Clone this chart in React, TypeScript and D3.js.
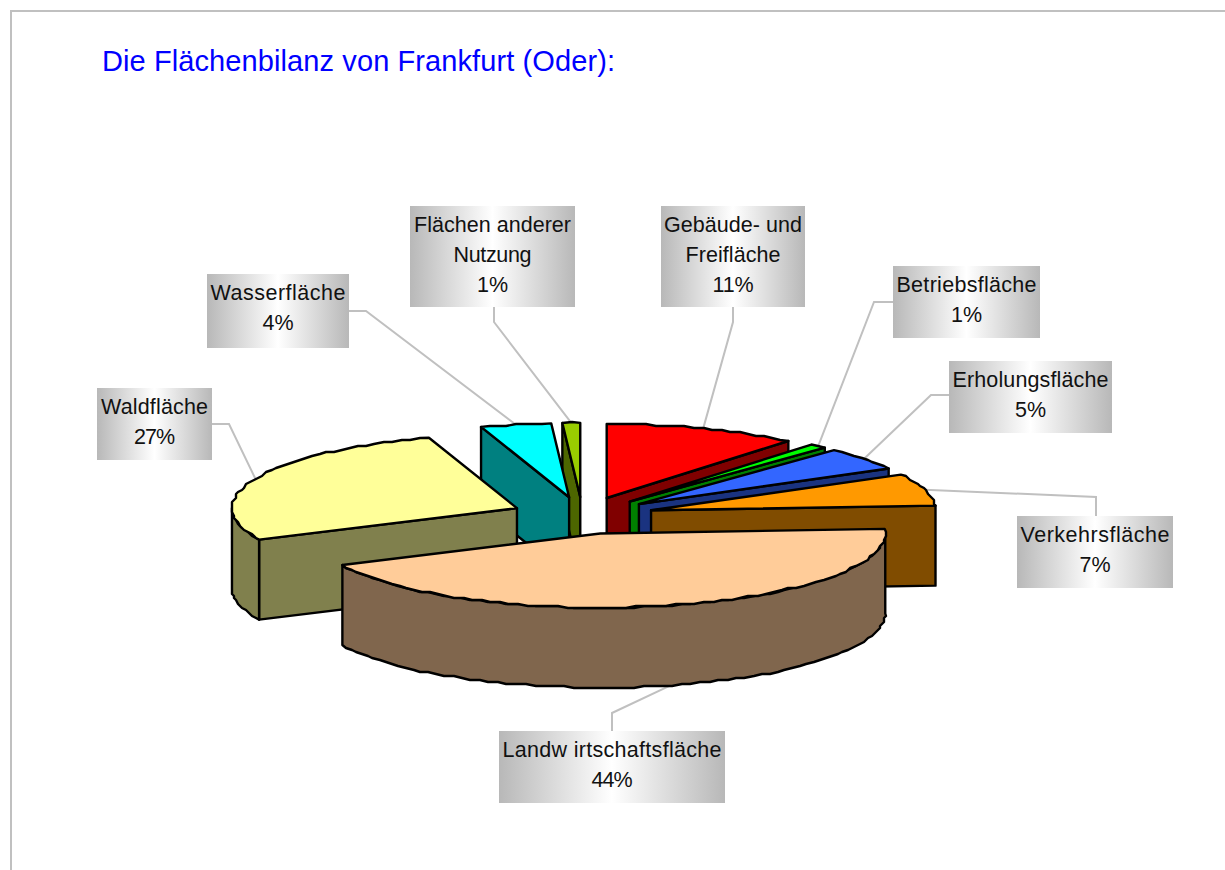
import React from "react";
import * as d3 from "d3";

// ---- data ----
const categories = ["Gebäude- und Freifläche", "Betriebsfläche", "Erholungsfläche", "Verkehrsfläche", "Landwirtschaftsfläche", "Waldfläche", "Wasserfläche", "Flächen anderer Nutzung"];
const values = [11, 1, 5, 7, 44, 27, 4, 1];
const labelLines = [
  ["Gebäude- und", "Freifläche", "11%"],
  ["Betriebsfläche", "1%"],
  ["Erholungsfläche", "5%"],
  ["Verkehrsfläche", "7%"],
  ["Landw irtschaftsfläche", "44%"],
  ["Waldfläche", "27%"],
  ["Wasserfläche", "4%"],
  ["Flächen anderer", "Nutzung", "1%"],
];
const topColors = ["#FF0000", "#00FF00", "#3366FF", "#FF9900", "#FFCC99", "#FFFF99", "#00FFFF", "#99CC00"];
const sideColors = ["#800000", "#008000", "#1A3380", "#804C00", "#80664D", "#80804D", "#008080", "#4D6600"];
const title = "Die Flächenbilanz von Frankfurt (Oder):";

// ---- layout ----
const cx = 582.5, cy = 515.5, rx = 285, ry = 74, ex = 71.4, ey = 18.6, depth = 80;
const boxes = [
  [661, 206, 805, 307], [893, 266, 1040, 338], [949, 361, 1112, 433], [1017, 516, 1173, 588],
  [499, 731, 725, 803], [97, 388, 212, 460], [207, 274, 349, 348], [410, 206, 575, 307],
];
// rendered width of each text line in the label boxes
const lineWidths = [
  [138, 95, 41], [140, 31], [156, 31], [149, 31],
  [219, 41], [107, 41], [135, 31], [157, 78, 31],
];
const leaders = [
  [[733, 307], [733, 322]], [[893, 302], [874, 302]], [[949, 395], [931, 395]], [[1096, 516], [1096, 497]],
  [[612, 731], [612, 713]], [[212, 424], [229, 424]], [[349, 311], [366, 311]], [[494, 307], [494, 322]],
];
const drawOrder = [7, 6, 5, 0, 1, 2, 3, 4];

const arcs = d3.pie<number>().sort(null).value((d) => d).startAngle(0).endAngle(2 * Math.PI)(values);
const path = d3.line<number[]>().x((d) => d[0]).y((d) => d[1]);
const grid = 2;
const snap = (v: number) => Math.round(v / grid) * grid;

function arcPoints(ax: number, ay: number, a0: number, a1: number, dy = 0) {
  const n = Math.max(1, Math.ceil((a1 - a0) / 0.035));
  return d3.range(n + 1).map((i) => {
    const t = a0 + ((a1 - a0) * i) / n;
    const p = [ax + rx * Math.sin(t), ay - ry * Math.cos(t) + dy];
    return i === 0 || i === n ? p : [snap(p[0]), snap(p[1])];
  });
}

function Slice({ i }: { i: number }) {
  const { startAngle: s, endAngle: e } = arcs[i];
  const m = (s + e) / 2;
  const ax = cx + ex * Math.sin(m), ay = cy - ey * Math.cos(m);
  const edge = (t: number) => [ax + rx * Math.sin(t), ay - ry * Math.cos(t)];
  const faces: number[][][] = [];
  if (s > Math.PI && s < 2 * Math.PI) {
    const p = edge(s);
    faces.push([p, [ax, ay], [ax, ay + depth], [p[0], p[1] + depth]]);
  }
  if (e > 0 && e < Math.PI) {
    const p = edge(e);
    faces.push([[ax, ay], p, [p[0], p[1] + depth], [ax, ay + depth]]);
  }
  const w0 = Math.max(s, Math.PI / 2), w1 = Math.min(e, (3 * Math.PI) / 2);
  if (w1 > w0) {
    const top = arcPoints(ax, ay, w0, w1);
    const bottom = arcPoints(ax, ay, w0, w1, depth).reverse();
    faces.push([...top, ...bottom]);
  }
  const topFace = [[ax, ay], ...arcPoints(ax, ay, s, e)];
  const strokeProps = { stroke: "#000", strokeWidth: 2.4, strokeLinejoin: "round" as const };
  return (
    <g>
      {faces.map((f, k) => (
        <path key={k} d={path(f) + "Z"} fill={sideColors[i]} {...strokeProps} />
      ))}
      <path d={path(topFace) + "Z"} fill={topColors[i]} {...strokeProps} />
    </g>
  );
}

function leaderEnd(i: number) {
  const { startAngle: s, endAngle: e } = arcs[i];
  const m = (s + e) / 2;
  const ax = cx + ex * Math.sin(m), ay = cy - ey * Math.cos(m);
  const front = m > Math.PI / 2 && m < (3 * Math.PI) / 2;
  return [ax + rx * Math.sin(m), ay - ry * Math.cos(m) + (front ? depth : 0)];
}

export default function App() {
  return (
    <svg width={1225} height={870} style={{ position: "absolute", left: 0, top: 0, background: "#fff" }} fontFamily="'Liberation Sans', Arial, sans-serif">
      <defs>
        <linearGradient id="boxGrad" x1="0" x2="1" y1="0" y2="0">
          <stop offset="0" stopColor="#B8B8B8" />
          <stop offset="0.5" stopColor="#FFFFFF" />
          <stop offset="1" stopColor="#B8B8B8" />
        </linearGradient>
      </defs>
      <path d="M11 870V11H1225" fill="none" stroke="#C0C0C0" strokeWidth={2} />
      <text x={102} y={71} fontSize={29} fill="#0000FF" textLength={513} lengthAdjust="spacing">{title}</text>

      {leaders.map((l, i) => (
        <path key={categories[i]} d={path([...l, leaderEnd(i)]) as string} fill="none" stroke="#C0C0C0" strokeWidth={2} />
      ))}

      {drawOrder.map((i) => <Slice key={i} i={i} />)}

      {boxes.map(([x0, y0, x1, y1], i) => (
        <g key={i}>
          <rect x={x0} y={y0} width={x1 - x0} height={y1 - y0} fill="url(#boxGrad)" />
          {labelLines[i].map((t, k) => (
            <text key={k} x={(x0 + x1) / 2} y={y0 + 26 + k * 30} textAnchor="middle" fontSize={21.5} fill="#111" textLength={lineWidths[i][k]} lengthAdjust="spacing">{t}</text>
          ))}
        </g>
      ))}
    </svg>
  );
}
